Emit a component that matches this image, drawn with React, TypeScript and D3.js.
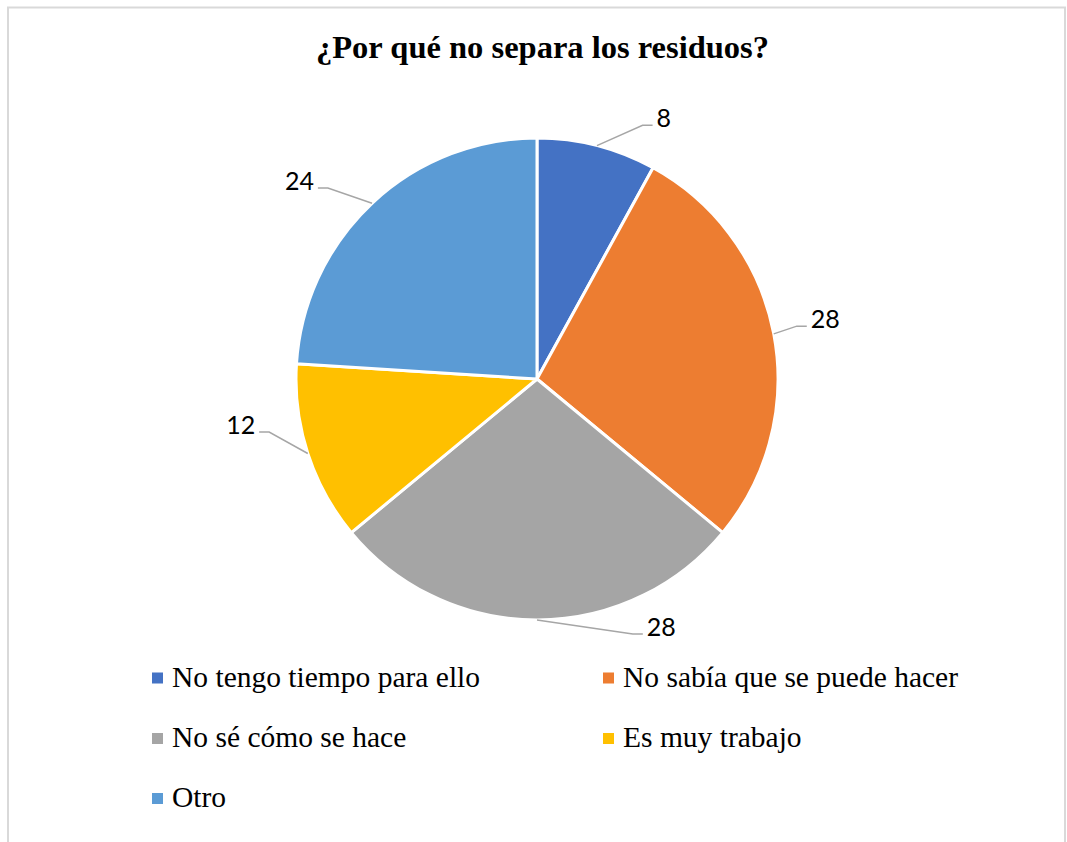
import React from "react";
import * as d3 from "d3";

const categories = [
  "No tengo tiempo para ello",
  "No sabía que se puede hacer",
  "No sé cómo se hace",
  "Es muy trabajo",
  "Otro",
];
const values = [8, 28, 28, 12, 24];
const colors = ["#4472C4", "#ED7D31", "#A5A5A5", "#FFC000", "#5B9BD5"];
const title = "¿Por qué no separa los residuos?";

// label elbow placement (angle in degrees clockwise from top, radius factor)
const labelElbow = [
  { a: 22.6, k: 1.14 },
  { a: 78.5, k: 1.1 },
  { a: 159.4, k: 1.13 },
  { a: 258.8, k: 1.133 },
  { a: 312.4, k: 1.175 },
];

const W = 1067;
const H = 842;
const cx = 537;
const cy = 379;
const R = 241;

export default function App() {
  const pie = d3.pie<number>().sort(null).value((d) => d)(values);
  const arc = d3.arc<d3.PieArcDatum<number>>().innerRadius(0).outerRadius(R);

  const legendCols = [152, 603];
  const legendRows = [678, 738.5, 798.5];

  return (
    <svg
      width={W}
      height={H}
      style={{ position: "absolute", left: 0, top: 0, background: "#fff" }}
    >
      <rect x={8} y={7.5} width={1057} height={860} fill="#fff" stroke="#d9d9d9" strokeWidth={2} />
      <text
        x={542.5}
        y={58}
        textAnchor="middle"
        fontFamily="'Liberation Serif', 'Times New Roman', serif"
        fontWeight="bold"
        fontSize={32.5}
        fill="#000"
      >
        {title}
      </text>
      <g transform={`translate(${cx},${cy})`}>
        {pie.map((p, i) => (
          <path key={i} d={arc(p) || ""} fill={colors[i]} stroke="#fff" strokeWidth={3} strokeLinejoin="round" />
        ))}
        {pie.map((p, i) => {
          const mid = (p.startAngle + p.endAngle) / 2;
          const sx = R * Math.sin(mid);
          const sy = -R * Math.cos(mid);
          const ea = (labelElbow[i].a * Math.PI) / 180;
          const er = R * labelElbow[i].k;
          const ex = er * Math.sin(ea);
          const ey = -er * Math.cos(ea);
          const dir = ex >= 0 ? 1 : -1;
          const tx = ex + dir * 10;
          return (
            <g key={"l" + i}>
              <polyline
                points={`${sx},${sy} ${ex},${ey} ${tx},${ey}`}
                fill="none"
                stroke="#a6a6a6"
                strokeWidth={1.5}
              />
              <text
                x={tx + dir * 4}
                y={ey - 7}
                dy="0.35em"
                textAnchor={dir > 0 ? "start" : "end"}
                fontFamily="Lato, 'Open Sans', sans-serif"
                fontSize={25}
                fill="#000"
              >
                {values[i]}
              </text>
            </g>
          );
        })}
      </g>
      {categories.map((c, i) => {
        const col = i % 2;
        const row = Math.floor(i / 2);
        const x = legendCols[col];
        const y = legendRows[row];
        return (
          <g key={"lg" + i}>
            <rect x={x} y={y - 5.5} width={11} height={11} fill={colors[i]} />
            <text
              x={x + 20}
              y={y + 8.5}
              fontFamily="'Liberation Serif', 'Times New Roman', serif"
              fontSize={29.5}
              fill="#000"
            >
              {c}
            </text>
          </g>
        );
      })}
    </svg>
  );
}
